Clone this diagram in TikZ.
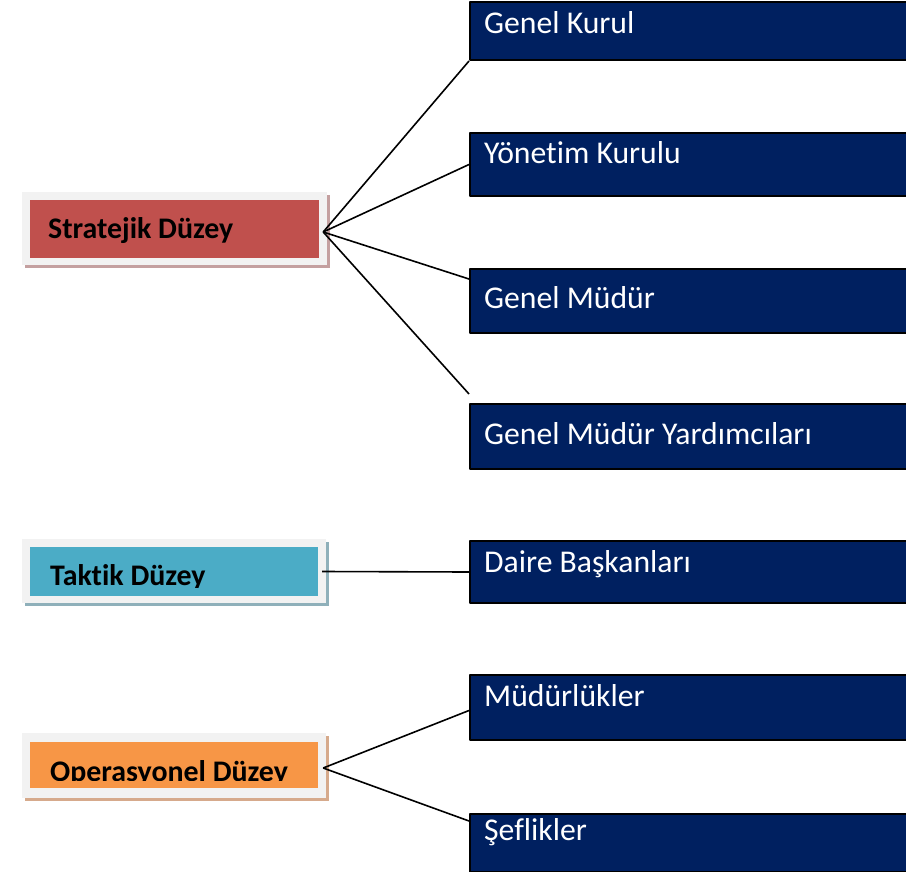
\documentclass[tikz,border=0pt]{standalone}
\usepackage{fontspec}
\setmainfont{Carlito}[Ligatures=NoCommon]
\usetikzlibrary{shadows}

\definecolor{navyfill}{HTML}{002060}
\definecolor{framegray}{HTML}{F2F2F2}
\definecolor{redfill}{HTML}{C0504D}
\definecolor{redshadow}{HTML}{C4A0A0}
\definecolor{tealfill}{HTML}{4BACC6}
\definecolor{tealshadow}{HTML}{8FB0BA}
\definecolor{orangefill}{HTML}{F79646}
\definecolor{orangeshadow}{HTML}{D6AA8C}

\begin{document}
\begin{tikzpicture}[x=1bp,y=-1bp,line join=bevel,
  frame/.style={fill=framegray,inner sep=0pt,
    drop shadow={shadow xshift=3bp,shadow yshift=-3bp,fill=#1,opacity=1}},
  band/.style={fill=#1,inner sep=0pt},
  lvltext/.style={anchor=base west,inner sep=0pt,font=\fontsize{30}{36}\selectfont\bfseries},
  unit/.style={draw=black,line width=2bp,fill=navyfill,anchor=north west,
    minimum width=440bp,inner sep=0pt},
  unittext/.style={anchor=base west,inner sep=0pt,text=white,font=\fontsize{31.8}{38}\selectfont},
  edge/.style={line width=1.6bp}]
\useasboundingbox (0,0) rectangle (906,872);

% Node: sd
\begin{scope}
  \node [frame=redshadow,minimum width=305bp,minimum height=73bp] (sd) at (174.5,228.5) {};
  \node [band=redfill,minimum width=289bp,minimum height=58bp] (sdb) at (174.5,229) {};
  \node [lvltext] (sdt) at (48,238) {Stratejik Düzey};
\end{scope}

% Node: td
\begin{scope}
  \node [frame=tealshadow,minimum width=304bp,minimum height=64bp] (td) at (174,571) {};
  \node [band=tealfill,minimum width=288bp,minimum height=49bp] (tdb) at (174,571.5) {};
  \clip (30,540) rectangle (318,587);
  \node [lvltext] (tdt) at (50,585.5) {Taktik Düzey};
\end{scope}

% Node: od
\begin{scope}
  \node [frame=orangeshadow,minimum width=304bp,minimum height=65bp] (od) at (174,765.5) {};
  \node [band=orangefill,minimum width=288bp,minimum height=46bp] (odb) at (174,765) {};
  \clip (30,742) rectangle (318,780);
  \node [lvltext] (odt) at (50,781) {Operasyonel Düzey};
\end{scope}

% Nodes: units
\node [unit,minimum height=58bp] (gk) at (469,1) {};
\node [unittext] (gkt) at (484,33) {Genel Kurul};
\node [unit,minimum height=63bp] (yk) at (469,132) {};
\node [unittext] (ykt) at (484,163) {Yönetim Kurulu};
\node [unit,minimum height=64bp] (gm) at (469,268) {};
\node [unittext] (gmt) at (484,308) {Genel Müdür};
\node [unit,minimum height=65bp] (gmy) at (469,403) {};
\node [unittext] (gmyt) at (484,444) {Genel Müdür Yardımcıları};
\node [unit,minimum height=62bp] (db) at (469,540) {};
\node [unittext] (dbt) at (484,572) {Daire Başkanları};
\node [unit,minimum height=65bp] (ml) at (469,674) {};
\node [unittext] (mlt) at (484,706) {Müdürlükler};
\node [unit,minimum height=58bp] (sf) at (469,813) {};
\node [unittext] (sft) at (484,840) {Şeflikler};

% Edges: sd -> units
\draw [edge] ([shift={(4,3)}]sdb.east) -- (gk.south west);
\draw [edge] ([shift={(4,3)}]sdb.east) -- (yk.west);
\draw [edge] ([shift={(4,3)}]sdb.east) -- ([shift={(0,11)}]gm.north west);
\draw [edge] ([shift={(4,3)}]sdb.east) -- ([shift={(0,-9)}]gmy.north west);

% Edge: td -> db
\draw [edge] ([shift={(4,0)}]tdb.east) -- (db.west);

% Edges: od -> units
\draw [edge] ([shift={(5,3)}]odb.east) -- ([shift={(0,3)}]ml.west);
\draw [edge] ([shift={(5,3)}]odb.east) -- ([shift={(0,8)}]sf.north west);
%
\end{tikzpicture}
\end{document}
